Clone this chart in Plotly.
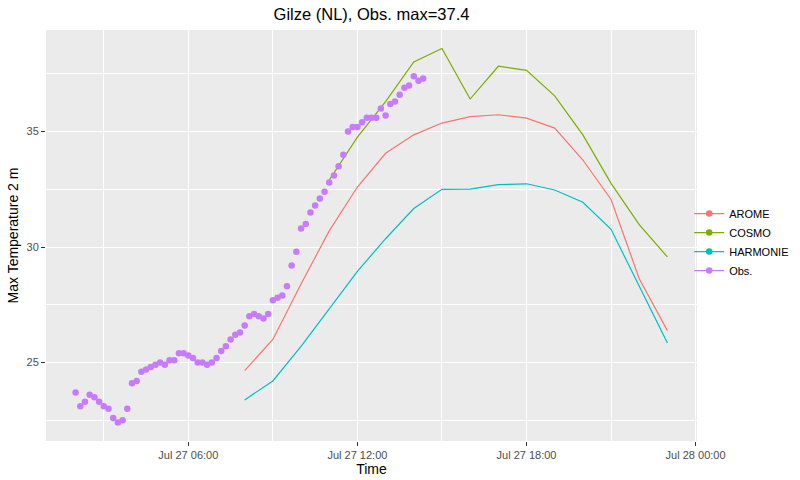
import pandas as pd
import plotly.graph_objects as go

# ---- data ----
obs_start = "2018-07-27 02:00"
obs_values = [
    23.7, 23.1, 23.3, 23.6, 23.5, 23.3, 23.1, 23.0, 22.6, 22.4, 22.5, 23.0,
    24.1, 24.2, 24.6, 24.7, 24.8, 24.9, 25.0, 24.9, 25.1, 25.1, 25.4, 25.4,
    25.3, 25.2, 25.0, 25.0, 24.9, 25.0, 25.2, 25.5, 25.7, 26.0, 26.2, 26.3,
    26.6, 27.0, 27.1, 27.0, 26.9, 27.1, 27.7, 27.8, 27.9, 28.3, 29.2, 29.8,
    30.8, 31.0, 31.5, 31.8, 32.1, 32.4, 32.8, 33.1, 33.5, 34.0, 35.0, 35.2,
    35.2, 35.4, 35.6, 35.6, 35.6, 36.0, 35.7, 36.2, 36.3, 36.6, 36.9, 37.0,
    37.4, 37.2, 37.3,
]
obs_times = pd.date_range(obs_start, periods=len(obs_values), freq="10min")

model_times = pd.date_range("2018-07-27 08:00", "2018-07-27 23:00", freq="1h")
arome = [24.65, 26.0, 28.4, 30.7, 32.6, 34.06, 34.86, 35.37, 35.65, 35.73,
         35.58, 35.15, 33.77, 32.06, 28.63, 26.38]
cosmo = [None, None, None, 32.9, 34.76, 36.3, 38.02, 38.6, 36.41, 37.83,
         37.65, 36.55, 34.86, 32.76, 30.97, 29.57]
harmonie = [23.38, 24.2, 25.7, 27.3, 28.95, 30.36, 31.67, 32.5, 32.51, 32.7,
            32.74, 32.47, 31.94, 30.77, 28.33, 25.84]

x_tickvals = ["2018-07-27 06:00", "2018-07-27 12:00", "2018-07-27 18:00", "2018-07-28 00:00"]
x_ticktext = ["Jul 27 06:00", "Jul 27 12:00", "Jul 27 18:00", "Jul 28 00:00"]

colors = {"AROME": "#F8766D", "COSMO": "#7CAE00", "HARMONIE": "#00BFC4", "Obs.": "#C77CFF"}

fig = go.Figure()
for name, vals in [("AROME", arome), ("COSMO", cosmo), ("HARMONIE", harmonie)]:
    fig.add_trace(go.Scatter(x=model_times, y=vals, mode="lines", name=name,
                             line=dict(color=colors[name], width=1.2),
                             showlegend=False))
fig.add_trace(go.Scatter(x=obs_times, y=obs_values, mode="markers", name="Obs.",
                         marker=dict(color=colors["Obs."], size=6.5),
                         showlegend=False))
# legend keys (ggplot style: line + point)
for name in ["AROME", "COSMO", "HARMONIE", "Obs."]:
    fig.add_trace(go.Scatter(x=[None], y=[None], mode="lines+markers", name=name,
                             line=dict(color=colors[name], width=1.2),
                             marker=dict(color=colors[name], size=6.5),
                             showlegend=True))

font_family = "Liberation Sans, Arial, sans-serif"
fig.update_layout(
    width=800, height=480,
    margin=dict(l=46, r=103, t=30, b=39, autoexpand=False),
    paper_bgcolor="white",
    plot_bgcolor="#EBEBEB",
    font=dict(family=font_family, size=11, color="#000000"),
    title=dict(text="Gilze (NL), Obs. max=37.4", x=(46 + 697) / 2 / 800, xanchor="center",
               y=1 - 14 / 480, yanchor="middle",
               font=dict(size=16.5, color="#000000", family=font_family)),
    legend=dict(x=0.988, xanchor="left", y=0.484, yanchor="middle",
                bgcolor="rgba(0,0,0,0)", font=dict(size=11, color="#000000"),
                itemwidth=30, tracegroupgap=0),
    showlegend=True,
)
fig.update_xaxes(
    automargin=False,
    range=["2018-07-27 00:57", "2018-07-28 00:03"],
    tickmode="array", tickvals=x_tickvals, ticktext=x_ticktext,
    ticks="outside", ticklen=4, tickwidth=1, tickcolor="#333333",
    tickfont=dict(size=11, color="#4D4D4D"),
    showgrid=True, gridcolor="white", gridwidth=1.4,
    zeroline=False, showline=False,
    minor=dict(dtick=3 * 3600 * 1000, tick0="2018-07-27 00:00", showgrid=True,
               gridcolor="white", gridwidth=0.7, ticks=""),
    title=dict(text="Time", font=dict(size=14, color="#000000"), standoff=1),
)
fig.update_yaxes(
    automargin=False,
    range=[21.6, 39.4],
    tickmode="linear", tick0=0, dtick=5,
    ticks="outside", ticklen=4, tickwidth=1, tickcolor="#333333",
    tickfont=dict(size=11, color="#4D4D4D"),
    showgrid=True, gridcolor="white", gridwidth=1.4,
    zeroline=False, showline=False,
    minor=dict(dtick=2.5, tick0=0, showgrid=True, gridcolor="white",
               gridwidth=0.7, ticks=""),
    title=dict(text="Max Temperature 2 m", font=dict(size=14, color="#000000"), standoff=4),
)

fig.write_html("out.html", config={"displayModeBar": False},
               post_script="document.body.style.margin='0px';")
